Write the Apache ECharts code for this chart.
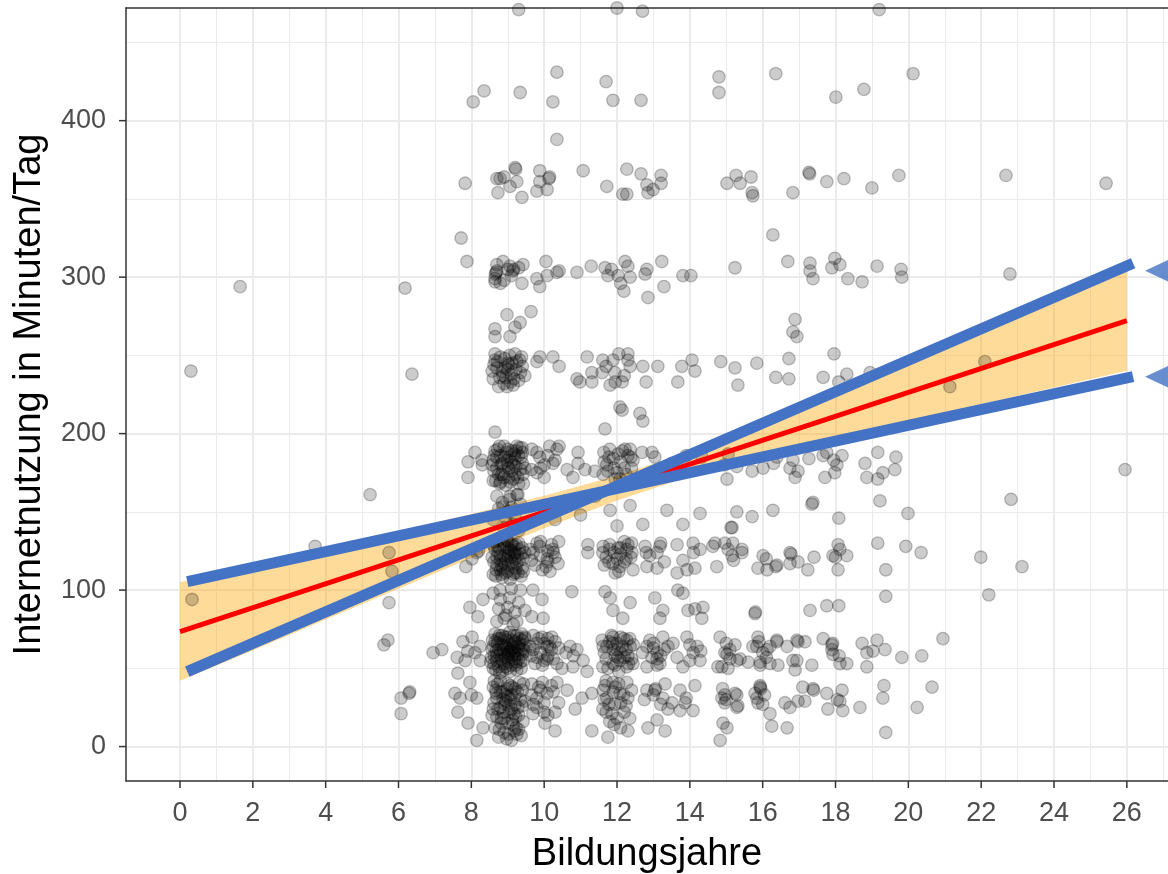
<!DOCTYPE html>
<html>
<head>
<meta charset="utf-8">
<script src="https://cdn.jsdelivr.net/npm/echarts@6/dist/echarts.min.js"></script>
<style>
  html, body { margin: 0; padding: 0; background: #fff; }
  #chart { width: 1168px; height: 874px; }
</style>
</head>
<body>
<div id="chart"></div>
<script>
// tick labels
const xTicks = [0, 2, 4, 6, 8, 10, 12, 14, 16, 18, 20, 22, 24, 26];
const xMinor = [1, 3, 5, 7, 9, 11, 13, 15, 17, 19, 21, 23, 25, 27];
const yTicks = [0, 100, 200, 300, 400];
const yMinor = [50, 150, 250, 350, 450];

const c9_60 = [[8.6,50],[8.7,55],[8.8,60],[8.9,65],[9.0,70],[9.1,52],[9.2,58],[9.3,63],[9.4,68],[8.65,72],
  [8.75,62],[8.85,48],[8.95,57],[9.05,61],[9.15,66],[9.25,71],[9.35,54],[8.6,64],[8.8,69],[9.0,50],
  [9.2,67],[9.4,59],[8.7,58],[8.9,53],[9.1,62],[9.3,56],[8.65,67],[9.05,73],[9.25,49],[8.85,71],
  [9.15,60],[8.95,64],[9.35,62],[8.75,51],[9.45,65],[8.55,57],[9.0,60],[8.9,59],[9.1,57],[9.2,61],
  [8.62,53],[8.72,66],[8.82,56],[8.92,70],[9.02,54],[9.12,68],[9.22,52],[9.32,66],[9.42,55],[8.68,61],
  [8.78,47],[8.98,63],[9.18,56],[9.38,72],[8.88,62],[9.08,65],[9.28,59],[8.58,68],[9.48,61],[9.0,56],
  [8.57,62],[8.67,49],[8.77,71],[8.87,55],[8.97,68],[9.07,48],[9.17,71],[9.27,64],[9.37,50],[9.47,69],
  [8.63,58],[8.83,65],[9.03,59],[9.23,54],[9.43,62],[8.73,69],[8.93,51],[9.13,63],[9.33,69],[8.53,54]];
const c9_30 = [[8.6,38],[8.7,31],[8.8,25],[8.9,18],[9.0,40],[9.1,33],[9.2,27],[9.3,20],[9.4,36],[8.65,12],
  [8.75,6],[8.85,35],[8.95,29],[9.05,22],[9.15,14],[9.25,8],[9.35,30],[8.6,24],[8.8,42],[9.0,15],
  [9.2,37],[9.4,26],[8.7,19],[8.9,9],[9.1,4],[9.3,11],[9.0,32],[8.8,35],[9.2,33],[9.1,24],
  [8.62,28],[8.72,40],[8.82,15],[8.92,27],[9.02,8],[9.12,38],[9.22,19],[9.32,41],[9.42,16],[8.68,34],
  [8.88,22],[9.08,30],[9.28,25],[8.98,37],[9.18,10],
  [8.57,20],[8.67,36],[8.77,11],[8.87,30],[8.97,5],[9.07,39],[9.17,21],[9.27,35],[9.37,7],[9.47,29],
  [8.63,42],[8.83,18],[9.03,26],[9.23,12],[9.43,40],[8.73,24],[8.93,33],[9.13,17]];
const c9_120 = [[8.6,110],[8.7,116],[8.8,122],[8.9,128],[9.0,112],[9.1,118],[9.2,124],[9.3,130],[9.4,114],[8.65,126],
  [8.75,132],[8.85,108],[8.95,120],[9.05,126],[9.15,110],[9.25,117],[9.35,123],[8.6,129],[8.8,113],[9.0,131],
  [9.2,111],[9.4,127],[8.7,121],[8.9,117],[9.1,125],[9.3,119],[9.0,122],[8.8,119],[9.2,120],[9.1,129],
  [8.62,118],[8.72,128],[8.82,110],[8.92,122],[9.02,116],[9.12,130],[9.22,114],[9.32,126],[9.42,120],[8.68,113],
  [8.88,131],[9.08,121],[9.28,111],[8.98,127],[9.18,123],
  [8.57,121],[8.67,109],[8.77,127],[8.87,114],[8.97,132],[9.07,107],[9.17,128],[9.27,122],[9.37,109],[9.47,124],
  [8.63,131],[8.83,116],[9.03,124],[9.23,129],[9.43,112],[8.73,124],[8.93,111],[9.13,115]];
const c9_90 = [[8.6,98],[8.75,88],[8.9,82],[9.05,95],[9.2,86],[9.35,100],[8.7,80],[9.0,89],[9.15,78],[9.3,92],
  [8.8,94],[9.1,101],[8.95,84],[9.25,80]];
const c9_150 = [[8.6,145],[8.75,152],[8.9,140],[9.05,158],[9.2,147],[9.35,155],[8.7,160],[9.0,150],[9.15,142],[9.3,138],
  [8.85,156],[9.1,153],[8.95,146],[9.25,161]];
const c9_180 = [[8.6,170],[8.7,178],[8.8,186],[8.9,172],[9.0,190],[9.1,176],[9.2,184],[9.3,168],[9.4,181],[8.65,189],
  [8.75,174],[8.85,181],[8.95,167],[9.05,185],[9.15,171],[9.25,192],[9.35,177],[8.6,183],[8.8,169],[9.0,180],
  [9.2,174],[9.4,188],[8.7,185],[9.1,182],[8.9,192],[9.3,186],
  [8.62,176],[8.72,190],[8.82,180],[8.92,185],[9.02,172],[9.12,189],[9.22,179],[9.32,191],[9.42,174],[8.98,183],
  [9.18,187],[8.78,168],
  [8.57,180],[8.67,170],[8.77,192],[8.87,176],[8.97,188],[9.07,169],[9.17,180],[9.27,172],[9.37,185],[9.47,178],
  [8.63,186],[8.83,174],[9.03,178],[9.23,189],[9.43,168]];
const c9_240 = [[8.6,235],[8.7,242],[8.8,249],[8.9,232],[9.0,245],[9.1,238],[9.2,251],[9.3,234],[9.4,243],[8.65,247],
  [8.75,230],[8.85,240],[8.95,236],[9.05,250],[9.15,231],[9.25,246],[9.35,239],[9.0,241],
  [8.62,244],[8.78,236],[8.92,248],[9.08,233],[9.22,241],[9.38,249],[8.98,230],[9.12,245],
  [8.57,240],[8.72,246],[8.87,237],[9.03,244],[9.17,235],[9.33,247],[9.47,237],[8.93,242]];
const c9_300 = [[8.7,308],[8.9,298],[9.1,301],[9.3,306],[8.8,296],[9.0,305]];

const c12 = [[11.65,60],[11.8,67],[11.95,52],[12.1,70],[12.25,62],[12.4,56],[11.7,56],[12.05,48],[12.35,69],
  [11.65,30],[11.8,16],[11.95,38],[12.1,12],[12.25,26],[12.4,36],[11.7,42],
  [11.65,116],[11.8,129],[11.95,111],[12.1,127],[12.25,120],[12.4,130],[11.7,121],
  [11.65,182],[11.8,190],[11.95,171],[12.15,189],[12.25,174],[12.4,178],
  [11.7,243],[11.95,233],[12.2,237],[12.05,251],[11.85,305],[12.1,296],[12.3,307],
  [11.62,64],[11.75,50],[11.88,66],[12.02,57],[12.18,69],[12.32,53],[12.45,65],[11.85,71],
  [11.62,36],[11.78,27],[11.92,14],[12.05,40],[12.18,33],[12.35,18],[11.7,22],
  [11.62,128],[11.78,118],[11.92,124],[12.05,112],[12.2,131],[12.38,121],
  [11.62,174],[11.78,185],[11.92,178],[12.08,171],[12.22,190],[12.38,185]];
const c10 = [[9.65,58],[9.8,66],[9.95,52],[10.1,69],[10.25,56],[10.4,63],[9.7,71],
  [9.65,33],[9.8,25],[9.95,41],[10.1,20],[10.25,35],[10.4,28],
  [9.65,119],[9.8,130],[9.95,113],[10.1,125],[10.3,121],[10.4,131],
  [9.65,177],[9.8,188],[10.0,172],[10.15,192],[10.3,183],
  [9.7,62],[9.85,69],[10.0,55],[10.15,64],[10.3,67],[9.7,27],[9.85,38],[10.0,22],[10.2,39],
  [9.7,124],[9.9,131],[10.05,115],[10.25,124]];
const cOther = [[13.0,66],[13.2,58],[13.4,64],[12.9,122],[13.3,118],[13.0,33],[13.4,24],[14.0,65],[14.3,61],
  [14.1,124],[13.9,31],[15.1,62],[15.3,55],[15.2,119],[14.95,180],[15.0,30],[16.0,60],[16.1,120],[16.05,33],
  [16.3,181],[17.9,62],[18.1,58],[18.0,121],[17.95,183],[18.05,30],[8.1,60],[8.2,125],[8.0,33],[7.9,61],[8.3,180],
  [12.7,60],[12.9,68],[13.1,52],[13.3,62],[12.75,30],[13.2,27],[12.8,124],[13.2,130],
  [15.1,56],[15.0,66],[15.9,67],[16.1,57],[14.9,37],[16.0,27]];

const pts480 = [[9.3,471],[9.4,474],[12.0,472],[12.7,470],[17.8,474],[18.7,474],[19.2,471]];
const pts420 = [[8.05,412],[8.35,419],[9.34,418],[10.35,431],[10.24,412],[11.7,425],[11.89,413],[12.66,413],
  [14.8,428],[14.8,418],[16.36,430],[18.01,415],[18.78,420],[20.13,430],[10.35,388]];
const pts360 = [[7.83,360],[8.7,363],[8.79,363],[8.9,364],[9.2,370],[9.22,369],[9.06,358],[8.73,354],[9.25,361],
  [9.39,351],[9.88,368],[9.88,361],[10.13,363],[10.15,364],[10.08,356],[9.8,355],[11.07,368],[11.72,358],
  [12.27,369],[12.16,353],[12.27,353],[12.66,366],[12.82,359],[12.85,354],[12.99,356],[13.21,365],[13.21,360],
  [15.02,360],[15.27,365],[15.38,360],[15.68,364],[15.71,354],[15.73,352],[16.83,354],[17.27,367],[17.29,366],
  [17.76,361],[18.23,363],[19.0,357],[19.74,365],[22.68,365],[25.43,360]];
const pts320 = [[7.72,325],[16.28,327],[7.88,310]];
const pts300 = [[8.68,303],[8.7,304],[8.66,302],[9.06,307],[9.14,304],[9.16,305],[9.42,308],[9.39,296],
  [8.87,310],[8.65,299],[10.05,310],[9.8,299],[10.08,301],[10.35,303],[10.41,304],[9.88,294],[10.9,303],
  [11.29,307],[11.67,306],[11.75,301],[12.03,301],[12.22,310],[12.36,300],[12.82,305],[12.77,302],
  [12.19,291],[13.23,310],[13.29,294],[13.81,301],[14.03,301],[15.24,306],[16.69,310],[12.85,287],
  [17.3,309],[17.3,304],[17.98,312],[17.9,306],[18.12,308],[19.14,307],[19.8,305],[19.82,300],
  [22.79,302],[17.38,299],[18.34,299],[18.73,297],[8.65,297],[1.65,294],[6.18,293]];
const pts270 = [[8.98,276],[9.64,278],[8.65,267],[8.65,262],[9.06,262],[9.2,268],[9.34,271],[16.89,273],
  [16.83,265],[16.94,262],[16.72,248],[17.96,251]];
const pts240 = [[9.8,246],[9.88,249],[10.24,249],[10.41,243],[10.9,235],[10.98,233],[11.18,249],[11.31,239],
  [11.31,233],[11.61,247],[11.59,239],[11.81,231],[11.89,247],[11.94,239],[12.14,233],[12.3,251],[12.36,243],
  [12.3,247],[12.71,243],[12.8,233],[13.12,243],[13.67,233],[13.78,243],[14.06,247],[14.14,240],[14.85,246],
  [15.24,242],[15.32,231],[15.84,245],[16.36,236],[16.72,235],[17.66,236],[18.31,238],[18.09,233],[18.95,239],
  [21.14,230],[22.1,246],[0.3,240],[6.37,238],[8.65,251]];
const pts210 = [[12.08,217],[12.14,215],[12.63,213],[12.71,208],[11.67,203],[8.65,201]];
const pts180 = [[7.91,182],[8.1,188],[8.29,183],[7.91,172],[9.39,191],[9.66,190],[9.88,185],[9.8,175],[10.24,181],
  [10.35,190],[10.41,192],[10.63,177],[10.79,172],[10.93,188],[10.93,181],[11.12,177],[11.39,176],[11.64,188],
  [11.72,180],[11.75,176],[12.03,187],[12.36,190],[12.44,183],[12.69,188],[12.96,188],[13.04,185],[14.33,185],
  [15.05,187],[15.29,179],[15.71,176],[16.01,178],[16.39,185],[15.02,171],[16.75,178],[16.83,183],[16.97,176],
  [16.89,172],[17.27,184],[17.66,186],[17.76,188],[18.18,186],[18.04,180],[17.71,172],[17.98,175],[18.81,181],
  [19.16,188],[19.66,185],[19.63,177],[19.3,175],[19.16,171],[18.86,172],[25.95,177],
  [12.1,182],[12.2,178],[11.9,184],[12.3,186],[12.0,175],[10.0,180],[10.1,186],[9.9,178],[13.5,181],[13.9,186]];
const pts150 = [[5.22,161],[9.06,160],[9.28,161],[8.87,153],[11.81,151],[12.36,154],[13.37,151],[14.28,149],
  [15.29,150],[15.71,147],[16.28,151],[12.71,142],[13.81,142],[15.13,140],[17.38,156],[19.22,157],[22.82,158],
  [19.99,149],[18.09,146],[17.35,155],[10.0,152],[10.3,145],[10.6,157],[11.0,148],[11.4,160],[12.0,141]];
const pts120 = [[7.85,115],[8.02,120],[8.15,124],[9.61,126],[9.88,128],[10.08,120],[10.24,126],[10.38,117],
  [10.16,112],[9.75,116],[11.2,129],[11.2,124],[11.61,124],[11.89,117],[12.03,127],[12.08,115],[12.27,126],
  [12.41,124],[12.44,113],[12.77,128],[12.82,115],[13.1,124],[13.18,128],[13.1,114],[13.65,129],[13.81,119],
  [13.65,111],[13.92,113],[14.09,130],[14.14,114],[14.28,126],[14.69,130],[14.74,115],[14.96,130],[15.05,126],
  [15.18,130],[15.43,126],[15.16,140],[16.01,122],[16.12,113],[16.39,116],[16.75,124],[16.97,118],[14.63,128],
  [15.16,122],[15.43,124],[15.87,114],[16.36,115],[16.78,123],[16.75,117],[17.24,113],[17.41,121],[17.93,122],
  [18.07,129],[18.12,126],[18.31,122],[18.07,113],[19.16,130],[19.38,113],[19.93,128],[20.35,124],[21.99,121],
  [23.12,115],[3.71,128],[5.74,124],[5.82,112],
  [12.0,120],[12.2,118],[11.8,126],[12.3,129],[12.1,123],[9.9,122],[10.1,118],[10.2,129]];
const pts90 = [[8.79,100],[8.32,94],[7.96,89],[8.18,83],[9.47,87],[9.69,100],[9.94,94],[9.66,83],[9.97,82],
  [10.76,99],[11.67,99],[11.81,95],[11.89,87],[12.16,82],[12.36,92],[13.04,95],[13.18,82],[13.26,87],[13.67,100],
  [13.81,98],[13.95,87],[14.14,88],[14.33,82],[14.36,89],[15.79,85],[15.8,86],[17.3,87],[17.76,90],[18.09,90],
  [19.38,96],[22.21,97],[0.33,94],[5.74,92]];
const pts60 = [[6.95,60],[7.19,62],[7.61,57],[7.63,47],[7.77,67],[7.83,55],[8.02,70],[8.24,64],[8.24,55],
  [9.47,70],[9.61,64],[9.75,53],[9.94,70],[10.08,64],[10.21,70],[10.08,56],[10.35,53],[10.71,64],[10.9,62],
  [11.07,55],[11.18,48],[10.79,51],[10.49,50],[11.59,68],[11.72,64],[11.89,70],[12.0,62],[12.27,68],[12.36,64],
  [12.08,55],[11.89,53],[11.61,51],[12.27,51],[12.44,53],[12.82,64],[12.96,57],[13.1,60],[13.26,70],[13.18,53],
  [12.82,51],[13.54,66],[13.65,57],[13.92,70],[14.0,55],[14.09,60],[14.28,55],[14.2,64],[13.81,51],[14.77,51],
  [14.83,70],[14.96,60],[15.05,50],[15.24,65],[15.73,64],[15.87,70],[15.93,54],[16.2,64],[16.39,68],[16.42,52],
  [16.67,64],[16.83,55],[16.94,68],[15.02,59],[15.38,56],[15.6,54],[14.88,51],[15.84,64],[16.12,62],[16.39,67],
  [15.93,52],[16.2,53],[16.97,67],[17.16,67],[16.94,55],[16.89,49],[17.35,52],[17.66,69],[17.9,65],[17.92,66],
  [17.93,59],[18.12,53],[18.31,53],[18.73,66],[18.86,60],[19.03,61],[19.14,68],[19.36,62],[18.86,51],[19.82,57],
  [20.37,58],[20.95,69],[5.71,68],[5.6,65],
  [12.0,66],[12.1,60],[12.2,57],[11.9,62],[12.3,58],[12.15,64],[11.95,58],[9.9,60],[10.1,58],[10.0,66],
  [10.2,62],[9.8,57],[13.0,63],[13.1,56],[10.8,58],[10.6,60]];
const pts30 = [[7.55,34],[7.69,31],[7.96,41],[8.15,31],[7.63,22],[7.91,15],[8.32,12],[8.15,4],[9.66,40],[9.8,31],
  [10.08,34],[10.35,41],[10.63,36],[10.3,22],[10.02,15],[10.3,10],[9.69,21],[10.85,24],[11.04,31],[11.31,34],
  [11.31,10],[11.75,6],[11.67,39],[11.72,31],[11.89,41],[11.61,24],[11.86,21],[11.94,27],[12.08,34],[12.27,41],
  [12.3,31],[12.0,18],[12.3,10],[12.82,36],[13.04,36],[13.06,37],[13.32,40],[13.26,31],[13.51,28],[13.73,36],
  [13.73,23],[13.87,28],[14.14,39],[14.09,23],[12.85,12],[13.32,10],[13.1,17],[14.88,31],[14.96,28],[15.24,34],
  [15.32,26],[14.91,15],[15.02,12],[14.83,4],[15.79,34],[15.93,39],[15.87,28],[16.2,21],[16.25,13],[16.67,12],
  [16.97,29],[14.96,33],[15.29,33],[15.29,25],[15.93,38],[15.95,37],[15.84,31],[16.61,28],[16.75,25],[17.1,38],
  [17.38,37],[17.4,36],[17.16,29],[17.76,34],[18.18,36],[18.12,29],[18.2,23],[17.79,24],[18.67,25],[19.3,31],
  [19.33,39],[20.24,25],[20.65,38],[19.38,9],[6.07,31],[6.29,34],[6.31,35],[6.07,21],
  [12.1,28],[11.9,35],[12.2,22],[10.0,28],[9.9,36]];

// regression line, confidence band, and the hand-drawn blue annotation
const fitLine = [[0, 73.5], [26, 272.2]];
const bandX = [0, 2, 4, 6, 8, 10, 12, 14, 16, 18, 20, 22, 24, 26];
const bandLower = [42, 61.4, 81.2, 100.9, 120.5, 139.5, 157.3, 172.6, 185.3, 196.9, 207.9, 218.7, 229.5, 240.2];
const bandUpper = [105, 116.2, 127, 137.7, 148.7, 160.3, 173.1, 188.4, 206.1, 225.1, 244.7, 264.5, 284.3, 304.2];
const blueA = [[0.2, 105.4], [26.17, 236.4]];
const blueB = [[0.2, 47.9], [26.17, 308.9]];
const arrowHeads = [[26.94, 304.1], [26.94, 236.4]];

const X_MIN = -1.483, X_MAX = 27.13, Y_MIN = -22, Y_MAX = 472;

const points = [].concat(c9_60, c9_30, c9_120, c9_90, c9_150, c9_180, c9_240, c9_300, c12, c10, cOther,
  pts480, pts420, pts360, pts320, pts300, pts270, pts240, pts210, pts180, pts150, pts120, pts90, pts60, pts30);

const FONT = "'Liberation Sans', Arial, sans-serif";
const gridLine = '#EBEBEB';
const frame = { show: true, onZero: false, lineStyle: { color: '#333', width: 1.5 } };
const tickStyle = { stroke: '#333', lineWidth: 1.5 };

const chart = echarts.init(document.getElementById('chart'), null, { renderer: 'canvas' });

chart.setOption({
  animation: false,
  backgroundColor: '#fff',
  grid: { left: 126, top: 8, right: 0, height: 773, show: false, outerBoundsMode: 'none', containLabel: false },
  xAxis: [
    {
      type: 'value', position: 'bottom', min: X_MIN, max: X_MAX,
      name: 'Bildungsjahre', nameLocation: 'middle', nameGap: 55,
      nameTextStyle: { color: '#000', fontSize: 38, fontFamily: FONT },
      axisLine: frame,
      axisTick: { show: false, customValues: xTicks },
      axisLabel: { customValues: xTicks, margin: 19, color: '#4D4D4D', fontSize: 27, fontFamily: FONT },
      splitLine: { show: true, lineStyle: { color: gridLine, width: 2 } }
    },
    {
      type: 'value', position: 'top', min: X_MIN, max: X_MAX, gridIndex: 0,
      axisLine: frame,
      axisTick: { show: false, customValues: xMinor },
      axisLabel: { show: false, customValues: xMinor },
      splitLine: { show: true, lineStyle: { color: gridLine, width: 1 } }
    }
  ],
  yAxis: [
    {
      type: 'value', position: 'left', min: Y_MIN, max: Y_MAX,
      name: 'Internetnutzung in Minuten/Tag', nameLocation: 'middle', nameGap: 77,
      nameTextStyle: { color: '#000', fontSize: 38, fontFamily: FONT },
      axisLine: frame,
      axisTick: { show: false, customValues: yTicks },
      axisLabel: { customValues: yTicks, margin: 20, color: '#4D4D4D', fontSize: 27, fontFamily: FONT },
      splitLine: { show: true, lineStyle: { color: gridLine, width: 2 } }
    },
    {
      type: 'value', position: 'right', min: Y_MIN, max: Y_MAX, gridIndex: 0,
      axisLine: { show: false, onZero: false },
      axisTick: { show: false, customValues: yMinor },
      axisLabel: { show: false, customValues: yMinor },
      splitLine: { show: true, lineStyle: { color: gridLine, width: 1 } }
    }
  ],
  series: [
    {
      type: 'scatter',
      data: points,
      symbolSize: 12.5,
      itemStyle: { color: 'rgba(0,0,0,0.25)', borderColor: 'rgba(0,0,0,0.3)', borderWidth: 1.3 },
      silent: true
    },
    {
      type: 'custom',
      data: [[0, 0]],
      silent: true,
      renderItem: function (params, api) {
        const pts = [];
        for (let i = 0; i < bandX.length; i++) pts.push(api.coord([bandX[i], bandUpper[i]]));
        for (let i = bandX.length - 1; i >= 0; i--) pts.push(api.coord([bandX[i], bandLower[i]]));
        return { type: 'polygon', shape: { points: pts }, style: { fill: 'rgba(255,165,0,0.4)' } };
      }
    },
    {
      type: 'line', data: fitLine, symbol: 'none', silent: true,
      lineStyle: { color: '#FF0000', width: 5 }
    },
    {
      type: 'line', data: blueA, symbol: 'none', silent: true,
      lineStyle: { color: '#4472C4', width: 11, cap: 'butt' }
    },
    {
      type: 'line', data: blueB, symbol: 'none', silent: true,
      lineStyle: { color: '#4472C4', width: 11, cap: 'butt' }
    },
    {
      type: 'scatter', data: arrowHeads, symbol: 'triangle', symbolRotate: 90,
      symbolSize: [30, 32], silent: true,
      itemStyle: { color: '#4472C4' }
    },
    {
      // outside tick marks on the bottom axis
      type: 'custom', silent: true, clip: false,
      data: xTicks.map(v => [v, Y_MIN]),
      renderItem: function (params, api) {
        const p = api.coord([api.value(0), api.value(1)]);
        return { type: 'line', shape: { x1: p[0], y1: p[1], x2: p[0], y2: p[1] + 7 }, style: tickStyle };
      }
    },
    {
      // outside tick marks on the left axis
      type: 'custom', silent: true, clip: false,
      data: yTicks.map(v => [X_MIN, v]),
      renderItem: function (params, api) {
        const p = api.coord([api.value(0), api.value(1)]);
        return { type: 'line', shape: { x1: p[0] - 7, y1: p[1], x2: p[0], y2: p[1] }, style: tickStyle };
      }
    }
  ]
});
</script>
</body>
</html>
